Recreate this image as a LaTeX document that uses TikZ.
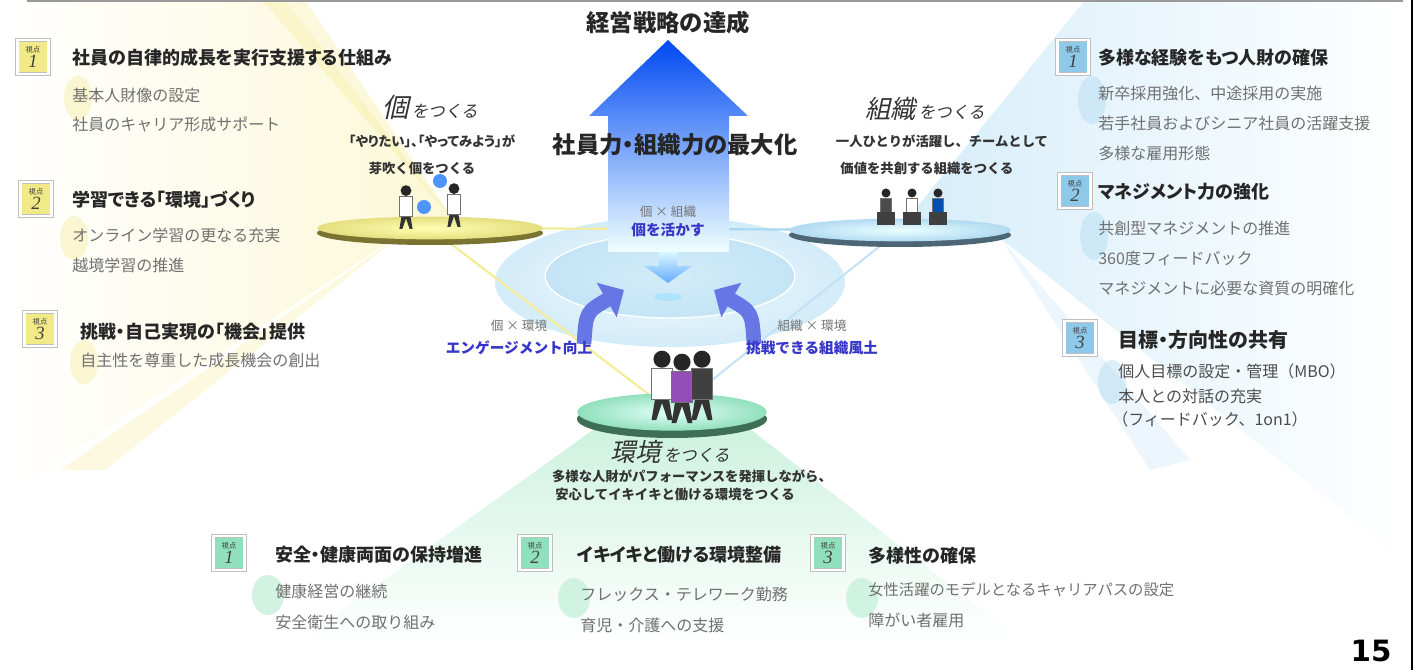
\documentclass[tikz,border=0pt]{standalone}
\usepackage{fontspec}
\setmainfont{Noto Sans CJK JP}
\newfontfamily\propjp[CharacterWidth=AlternateProportional]{Noto Sans CJK JP}
\newfontfamily\slantjp[FakeSlant=0.22]{Noto Sans CJK JP}
\newfontfamily\numsans{DejaVu Sans}
\newfontfamily\numserif{Liberation Serif}
\usetikzlibrary{arrows.meta,shapes.geometric}

\definecolor{ylwpale}{HTML}{FCF8D6}
\definecolor{ylwbeam}{HTML}{F5EC98}
\definecolor{ylwrim}{HTML}{7A7332}
\definecolor{ylwbadge}{HTML}{F1EA86}
\definecolor{blupale}{HTML}{D6EDF9}
\definecolor{blubeam}{HTML}{A9D6F0}
\definecolor{blurim}{HTML}{4C6675}
\definecolor{blubadge}{HTML}{8FC9EA}
\definecolor{grnpale}{HTML}{CDF2DF}
\definecolor{grnrim}{HTML}{3E6E55}
\definecolor{grnbadge}{HTML}{91E0BD}
\definecolor{ringout}{HTML}{E6F4FC}
\definecolor{ringmid}{HTML}{D3ECF9}
\definecolor{ringin}{HTML}{C4E4F6}
\definecolor{itemgray}{HTML}{707070}
\definecolor{txtblue}{HTML}{3535C8}
\definecolor{flowblue}{HTML}{6676E4}

% tag printed on top of each badge
\newcommand\vptag{{\normalfont\fontsize{5.5}{5.5}\selectfont 視点}}

\tikzset{
  pics/person/.style={code={
    % legs, torso, head
    \fill[black!80] (-3.5,12) -- (-5.5,0) -- (-3,0) -- (0,9) -- (3,0) -- (5.5,0) -- (3.5,12) -- cycle;
    \fill[#1, draw=black!55, line width=0.3pt] (-5.5,27) rectangle (5.5,11);
    \fill[black!85] (0,32) circle (4.5);
  }}
}

\begin{document}
\begin{tikzpicture}[x=0.75pt,y=0.75pt,yscale=-1,xscale=1,
  head/.style={anchor=west,inner sep=0pt,text=black!85,font=\propjp\bfseries\fontsize{13.5}{16}\selectfont},
  item/.style={anchor=west,inner sep=0pt,text=itemgray,font=\fontsize{12}{14}\selectfont},
  badge/.style={draw=black!25,double=white,double distance=2.2pt,line width=0.4pt,minimum width=23.5pt,minimum height=25.5pt,inner sep=0pt,align=center,text=black!75,font=\numserif\itshape\fontsize{14}{11}\selectfont},
  disc/.style={ellipse,inner sep=0pt},
  make/.style={inner sep=0pt,text=black!80},
  lead/.style={inner sep=0pt,text=black!80,font=\bfseries\fontsize{10}{12}\selectfont},
  pair/.style={inner sep=0pt,text=black!55,font=\fontsize{9.5}{11}\selectfont},
  gain/.style={inner sep=0pt,text=txtblue,font=\bfseries\fontsize{11}{13}\selectfont},
  brush/.style={opacity=0.4},
  flow/.style={flowblue,line width=11pt,-{Triangle[length=15pt,width=29pt]}}
]
\useasboundingbox (0,0) rectangle (1418,670);

%Light wedges behind the three panels
\shade[left color=white, right color=ylwpale] (455,222) -- (285,0) -- (0,0) -- (0,500) -- (395,238) -- cycle;
\fill[ylwbeam, opacity=0.35] (455,222) -- (305,0) -- (262,0) -- cycle;
\fill[ylwbeam, opacity=0.3] (400,236) -- (60,470) -- (105,470) -- cycle;
\shade[left color=blupale, right color=white] (905,222) -- (1085,0) -- (1405,0) -- (1405,560) -- (1000,238) -- cycle;
\fill[blubeam, opacity=0.22] (1000,238) -- (1150,470) -- (1190,460) -- cycle;
\shade[top color=grnpale, bottom color=white] (600,425) -- (745,425) -- (1020,640) -- (300,640) -- cycle;

%Brush marks beside the lists
\fill[ylwbeam, brush] (78,98) ellipse [x radius=14, y radius=22];
\fill[ylwbeam, brush] (74,238) ellipse [x radius=14, y radius=22];
\fill[ylwbeam, brush] (84,362) ellipse [x radius=14, y radius=22];
\fill[blubeam, brush] (1092,100) ellipse [x radius=14, y radius=24];
\fill[blubeam, brush] (1094,236) ellipse [x radius=14, y radius=24];
\fill[blubeam, brush] (1112,382) ellipse [x radius=14, y radius=22];
\fill[grnpale, opacity=0.9] (268,595) ellipse [x radius=16, y radius=20];
\fill[grnpale, opacity=0.9] (574,598) ellipse [x radius=16, y radius=20];
\fill[grnpale, opacity=0.9] (862,598) ellipse [x radius=16, y radius=20];

%Center rings
\shade[inner color=ringout!60, outer color=ringmid] (670,282) ellipse [x radius=175, y radius=65];
\shade[inner color=ringmid, outer color=ringin] (670,276) ellipse [x radius=125, y radius=42];
\draw[white, line width=1] (670,276) ellipse [x radius=125, y radius=42];

%Lines tying the three discs together
\coordinate (indc) at (430,228);
\coordinate (orgc) at (900,230);
\coordinate (envc) at (672,412);
\draw[ylwbeam, line width=1.6] (indc) -- (670,229);
\draw[blubeam, line width=1.6] (670,229) -- (orgc);
\draw[ylwbeam, line width=1.6] (indc) -- (envc);
\draw[blubeam!70, line width=1.6] (orgc) -- (envc);

%Big arrow
\shade[top color=blue!70!cyan!95!black, middle color=blue!25!cyan!45, bottom color=cyan!6] (668,40) -- (748,116) -- (729,116) -- (729,252) -- (608,252) -- (608,116) -- (589,116) -- cycle;

%Discs
\fill[ylwrim] (430,233) ellipse [x radius=113, y radius=12];
\node[disc, inner color=yellow!30, outer color=ylwbadge!95!black, minimum width=169pt, minimum height=17pt] (inddisc) at (indc) {};
\fill[blurim] (900,235) ellipse [x radius=111, y radius=12];
\node[disc, inner color=cyan!8, outer color=blubeam!90, minimum width=166pt, minimum height=17pt] (orgdisc) at (orgc) {};
\fill[grnrim] (672,419) ellipse [x radius=95, y radius=19];
\node[disc, inner color=green!15!cyan!10, outer color=grnbadge, minimum width=142pt, minimum height=28pt] (envdisc) at (envc) {};

%People on the discs
\pic[scale=1.2] at (406,229) {person=white};
\pic[scale=1.2] at (454,227) {person=white};
\fill[blue!60!cyan!70] (440,181) circle (7);
\fill[blue!60!cyan!70] (424,207) circle (7);
\pic at (886,225) {person=black!70};
\fill[black!75] (877,212) rectangle (895,225);
\pic at (912,225) {person=white};
\fill[black!75] (903,212) rectangle (921,225);
\pic at (938,225) {person=blue!55!cyan!70!black};
\fill[black!75] (929,212) rectangle (947,225);
\pic[scale=1.9] at (662,420) {person=white};
\pic[scale=1.9] at (682,423) {person=blue!60!red!70};
\pic[scale=1.9] at (702,420) {person=black!75};

%Small arrows into the center
\shade[top color=blue!20!cyan!15, bottom color=blue!55!cyan!60] (659,252) -- (677,252) -- (677,266) -- (692,266) -- (668,283) -- (644,266) -- (659,266) -- cycle;
\fill[blue!30!cyan!40, opacity=0.6] (668,297) ellipse [x radius=14, y radius=4];
\coordinate (engtail) at (584,344);
\coordinate (enghead) at (624,290);
\coordinate (chaltail) at (754,344);
\coordinate (chalhead) at (714,290);
\draw[flow] (engtail) .. controls (586,312) .. (enghead);
\draw[flow] (chaltail) .. controls (752,312) .. (chalhead);

% Text Node
\node[inner sep=0pt, text=black!85, font=\bfseries\fontsize{17.5}{20}\selectfont] (goal) at (668,23) {経営戦略の達成};
\node[inner sep=0pt, text=black!85, font=\propjp\bfseries\fontsize{17.5}{20}\selectfont] (maxim) at (675,145) {社員力・組織力の最大化};

% Text Node
\node[make] (indmake) at (430,107) {{\slantjp\fontsize{20}{20}\selectfont 個}\kern2pt{\slantjp\fontsize{12.5}{13}\selectfont をつくる}};
\node[lead, font=\propjp\bfseries\fontsize{10}{12}\selectfont] (indlead1) at (432,141) {「やりたい」、「やってみよう」が};
\node[lead] (indlead2) at (422,168) {芽吹く個をつくる};
\node[make] (orgmake) at (925,109) {{\slantjp\fontsize{19}{20}\selectfont 組織}\kern2pt{\slantjp\fontsize{12.5}{13}\selectfont をつくる}};
\node[lead] (orglead1) at (942,141) {一人ひとりが活躍し、チームとして};
\node[lead] (orglead2) at (927,168) {価値を共創する組織をつくる};
\node[make] (envmake) at (670,452) {{\slantjp\fontsize{19}{20}\selectfont 環境}\kern2pt{\slantjp\fontsize{12.5}{13}\selectfont をつくる}};
\node[lead] (envlead1) at (692,476) {多様な人財がパフォーマンスを発揮しながら、};
\node[lead] (envlead2) at (675,494) {安心してイキイキと働ける環境をつくる};

% Text Node
\node[pair] (ioxo) at (668,212) {個\ ×\ 組織};
\node[gain] (iolive) at (668,230) {個を活かす};
\node[pair] (iexe) at (519,326) {個\ ×\ 環境};
\node[gain] (eng) at (519,348) {エンゲージメント向上};
\node[pair] (oexe) at (812,326) {組織\ ×\ 環境};
\node[gain] (chal) at (812,348) {挑戦できる組織風土};

%Left panel
\node[badge, fill=ylwbadge] (lb1) at (33,57) {\vptag\\1};
\node[head] (lh1) at (72,58) {社員の自律的成長を実行支援する仕組み};
\node[item] (li11) at (72,95) {基本人財像の設定};
\node[item] (li12) at (72,124) {社員のキャリア形成サポート};
\node[badge, fill=ylwbadge] (lb2) at (36,199) {\vptag\\2};
\node[head] (lh2) at (72,200) {学習できる「環境」づくり};
\node[item] (li21) at (72,235) {オンライン学習の更なる充実};
\node[item] (li22) at (72,265) {越境学習の推進};
\node[badge, fill=ylwbadge] (lb3) at (40,329) {\vptag\\3};
\node[head] (lh3) at (80,332) {挑戦・自己実現の「機会」提供};
\node[item] (li31) at (80,360) {自主性を尊重した成長機会の創出};

%Right panel
\node[badge, fill=blubadge] (rb1) at (1073,57) {\vptag\\1};
\node[head] (rh1) at (1098,58) {多様な経験をもつ人財の確保};
\node[item] (ri11) at (1098,93) {新卒採用強化、中途採用の実施};
\node[item] (ri12) at (1098,123) {若手社員およびシニア社員の活躍支援};
\node[item] (ri13) at (1098,153) {多様な雇用形態};
\node[badge, fill=blubadge] (rb2) at (1075,191) {\vptag\\2};
\node[head] (rh2) at (1098,192) {マネジメント力の強化};
\node[item] (ri21) at (1098,228) {共創型マネジメントの推進};
\node[item] (ri22) at (1098,258) {360度フィードバック};
\node[item] (ri23) at (1098,288) {マネジメントに必要な資質の明確化};
\node[badge, fill=blubadge] (rb3) at (1080,338) {\vptag\\3};
\node[head, font=\propjp\bfseries\fontsize{15}{18}\selectfont] (rh3) at (1118,340) {目標・方向性の共有};
\node[item, text=black!70] (ri31) at (1118,371) {個人目標の設定・管理（MBO）};
\node[item, text=black!70] (ri32) at (1118,396) {本人との対話の充実};
\node[item, text=black!70] (ri33) at (1112,419) {（フィードバック、1on1）};

%Bottom panel
\node[badge, fill=grnbadge] (gb1) at (229,553) {\vptag\\1};
\node[head] (gh1) at (275,555) {安全・健康両面の保持増進};
\node[item] (gi11) at (275,591) {健康経営の継続};
\node[item] (gi12) at (275,622) {安全衛生への取り組み};
\node[badge, fill=grnbadge] (gb2) at (535,553) {\vptag\\2};
\node[head] (gh2) at (577,555) {イキイキと働ける環境整備};
\node[item] (gi21) at (580,594) {フレックス・テレワーク勤務};
\node[item] (gi22) at (580,625) {育児・介護への支援};
\node[badge, fill=grnbadge] (gb3) at (828,553) {\vptag\\3};
\node[head] (gh3) at (868,556) {多様性の確保};
\node[item, font=\fontsize{11.5}{14}\selectfont] (gi31) at (868,590) {女性活躍のモデルとなるキャリアパスの設定};
\node[item] (gi32) at (868,620) {障がい者雇用};

%Page frame and number
\draw[black!40, line width=1.5] (27,1) -- (1403,1);
\draw[black, line width=1.5] (1412,0) -- (1412,670);
\node[inner sep=0pt, font=\numsans\bfseries\fontsize{22}{24}\selectfont] (pageno) at (1371,651) {15};

\end{tikzpicture}
\end{document}
